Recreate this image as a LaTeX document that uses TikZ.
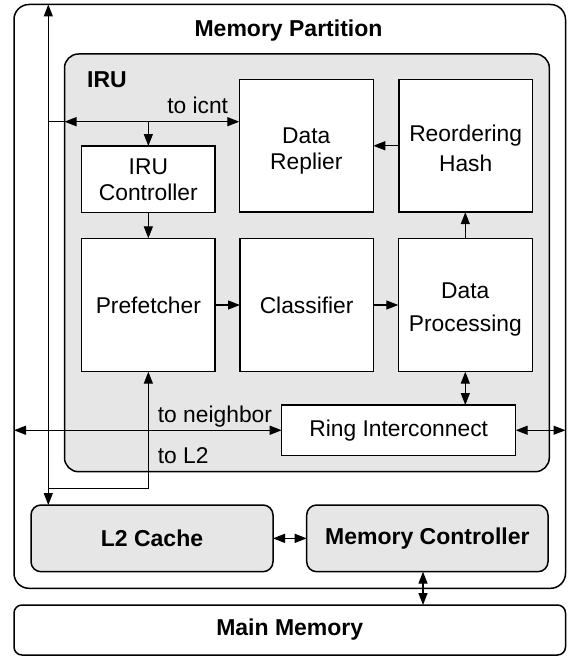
\documentclass[tikz,border=0pt]{standalone}
\usepackage{fontspec}
\setmainfont{Liberation Sans}
\usetikzlibrary{arrows.meta}
\definecolor{panel}{HTML}{E6E6E6}
% strut that lowers a two-line label by half of #1
\newcommand\lowerby[1]{\rule{0pt}{\dimexpr 16.5pt+#1\relax}}
\begin{document}
\begin{tikzpicture}[x=1pt,y=-1pt,
  txt/.style={font=\fontsize{22.8}{26}\selectfont},
  btxt/.style={font=\fontsize{23}{27}\selectfont\bfseries},
  blk/.style={draw, line width=1.5pt, fill=white, inner sep=0pt, outer sep=0pt,
    align=center, txt},
  rblk/.style={blk, rounded corners=#1},
  tipa/.tip={Triangle[length=12pt,width=9pt]},
  link/.style={line width=1.3pt},
  arr/.style={link, -tipa},
  dbl/.style={link, tipa-tipa},
]
\useasboundingbox (0,0) rectangle (573,658);

% containers
\node[rblk=15pt, minimum width=551.5pt, minimum height=583.8pt] (mp) at (289.75,296.4) {};
\node[rblk=14pt, fill=panel, minimum width=484.8pt, minimum height=417.7pt] (iru) at (306.9,262.85) {};
\node[btxt, anchor=base] at (288.5,37) {Memory Partition};
\node[btxt, anchor=base west, inner sep=0pt] at (87,88) {IRU};

% IRU blocks
\node[blk, minimum width=133.3pt, minimum height=66.7pt] (ctrl) at (148.35,179.35) {IRU\\Controller};
\node[blk, minimum width=134pt, minimum height=132.9pt] (replier) at (306.3,145.75) {\lowerby{10pt}Data\\Replier};
\node[blk, minimum width=133.3pt, minimum height=132.9pt] (hash) at (465.65,145.75) {\lowerby{5pt}Reordering\\[4pt]Hash};
\node[blk, minimum width=133.3pt, minimum height=133.4pt] (pref) at (148.35,305) {Prefetcher};
\node[blk, minimum width=133.3pt, minimum height=133.4pt] (class) at (306.65,305) {Classifier};
\node[blk, minimum width=134pt, minimum height=133.4pt] (dp) at (465.3,305) {\lowerby{8pt}Data\\[7.5pt]Processing};
\node[blk, minimum width=234pt, minimum height=50.5pt] (ring) at (398.7,430.25) {Ring Interconnect};

% memory side blocks
\node[rblk=10pt, fill=panel, btxt, minimum width=242pt, minimum height=66.7pt] (l2) at (152,538.35) {L2 Cache};
\node[rblk=10pt, fill=panel, btxt, minimum width=241.3pt, minimum height=66.7pt] (mc) at (427.35,538.35) {Memory Controller};
\node[rblk=8pt, btxt, minimum width=551.5pt, minimum height=50pt] (main) at (289.75,630) {Main Memory};

% routing points
\coordinate (bus) at (48.3,121.7);
\coordinate (l2turn) at (48.3,488.3);
\coordinate (mcbus) at (423,0);

% connectors
\draw[dbl] (bus |- mp.north) -- (bus |- l2.north);
\draw[link] (bus) -- (bus -| iru.west);
\draw[dbl] (bus -| iru.west) -- (bus -| replier.west);
\draw[arr] (ctrl.north |- bus) -- (ctrl.north);
\draw[arr] (ctrl.south) -- (pref.north);
\draw[arr] (pref.east) -- (class.west);
\draw[arr] (class.east) -- (dp.west);
\draw[arr] (dp.north) -- (dp.north |- hash.south);
\draw[arr] (hash.west) -- (replier.east);
\draw[dbl] (dp.south) -- (dp.south |- ring.north);
\draw[dbl] (ring.west) -- (ring.west -| mp.west);
\draw[dbl] (ring.east) -- (ring.east -| mp.east);
\draw[arr] (l2turn) -- (l2turn -| pref.south) -- (pref.south);
\draw[dbl] (l2.east) -- (mc.west);
\draw[dbl] (mcbus |- mc.south) -- (mcbus |- main.north);

% connector labels
\node[txt, anchor=base east, inner sep=0pt] at (228.3,113.3) {to icnt};
\node[txt, anchor=base west, inner sep=0pt] at (157.7,422.7) {to neighbor};
\node[txt, anchor=base west, inner sep=0pt] at (157.7,463) {to L2};
\end{tikzpicture}
\end{document}
